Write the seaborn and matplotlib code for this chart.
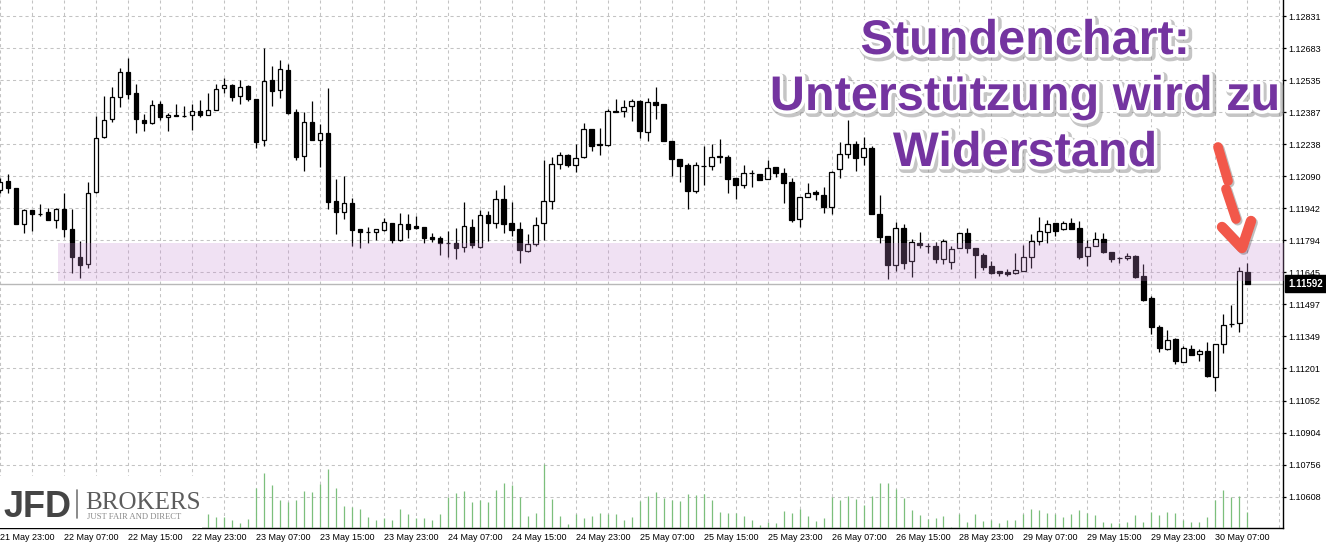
import matplotlib
matplotlib.use("Agg")
import matplotlib.pyplot as plt
import matplotlib.patheffects as pe
from matplotlib.patches import Rectangle
from matplotlib.lines import Line2D
import seaborn as sns
import numpy as np

sns.set_style("white")
plt.rcParams['font.family'] = ['Liberation Sans', 'DejaVu Sans']

# EURUSD H1 candles, 21 May 23:00 .. 30 May 11:00
opens = [1.12026, 1.12068, 1.12034, 1.11868, 1.11934, 1.11917, 1.11923, 1.11886, 1.11937, 1.11846,
         1.11715, 1.11683, 1.12016, 1.12271, 1.12353, 1.12455, 1.12572, 1.12474, 1.12350, 1.12338,
         1.12423, 1.12363, 1.12372, 1.12367, 1.12372, 1.12390, 1.12372, 1.12395, 1.12497, 1.12510,
         1.12460, 1.12507, 1.12447, 1.12256, 1.12535, 1.12487, 1.12581, 1.12387, 1.12182, 1.12341,
         1.12256, 1.12290, 1.11975, 1.11923, 1.11966, 1.11844, 1.11831, 1.11830, 1.11843, 1.11874,
         1.11793, 1.11869, 1.11860, 1.11855, 1.11809, 1.11804, 1.11780, 1.11780, 1.11764, 1.11855,
         1.11764, 1.11911, 1.11875, 1.11983, 1.11872, 1.11844, 1.11745, 1.11775, 1.11872, 1.11974,
         1.12145, 1.12187, 1.12141, 1.12177, 1.12308, 1.12238, 1.12233, 1.12390, 1.12390, 1.12413,
         1.12438, 1.12296, 1.12432, 1.12423, 1.12251, 1.12170, 1.12141, 1.12023, 1.12139, 1.12136,
         1.12184, 1.12179, 1.12080, 1.12048, 1.12106, 1.12100, 1.12079, 1.12131, 1.12103, 1.12062,
         1.11891, 1.11993, 1.12016, 1.12002, 1.11949, 1.12122, 1.12191, 1.12238, 1.12177, 1.12222,
         1.11914, 1.11813, 1.11681, 1.11849, 1.11696, 1.11781, 1.11766, 1.11767, 1.11709, 1.11692,
         1.11757, 1.11826, 1.11757, 1.11724, 1.11675, 1.11652, 1.11646, 1.11641, 1.11653, 1.11715,
         1.11792, 1.11833, 1.11872, 1.11844, 1.11874, 1.11849, 1.11721, 1.11766, 1.11798, 1.11740,
         1.11712, 1.11710, 1.11721, 1.11627, 1.11525, 1.11391, 1.11292, 1.11337, 1.11232, 1.11292,
         1.11266, 1.11280, 1.11163, 1.11314, 1.11406, 1.11410, 1.11647]
highs = [1.12082, 1.12100, 1.12036, 1.11937, 1.11936, 1.11961, 1.11943, 1.11943, 1.12011, 1.11937,
         1.11790, 1.12065, 1.12369, 1.12461, 1.12501, 1.12589, 1.12635, 1.12515, 1.12378, 1.12443,
         1.12438, 1.12384, 1.12424, 1.12415, 1.12424, 1.12444, 1.12475, 1.12516, 1.12543, 1.12516,
         1.12535, 1.12512, 1.12448, 1.12682, 1.12600, 1.12627, 1.12608, 1.12401, 1.12387, 1.12439,
         1.12331, 1.12498, 1.12077, 1.12091, 1.11988, 1.11847, 1.11854, 1.11845, 1.11895, 1.11875,
         1.11919, 1.11915, 1.11907, 1.11856, 1.11826, 1.11812, 1.11837, 1.11849, 1.11971, 1.11892,
         1.11932, 1.11929, 1.12026, 1.12049, 1.11971, 1.11877, 1.11823, 1.11900, 1.12165, 1.12180,
         1.12202, 1.12193, 1.12240, 1.12335, 1.12309, 1.12313, 1.12402, 1.12447, 1.12441, 1.12448,
         1.12443, 1.12450, 1.12501, 1.12424, 1.12253, 1.12171, 1.12150, 1.12154, 1.12231, 1.12238,
         1.12262, 1.12186, 1.12082, 1.12142, 1.12119, 1.12101, 1.12165, 1.12133, 1.12127, 1.12083,
         1.11994, 1.12060, 1.12026, 1.12042, 1.12112, 1.12247, 1.12350, 1.12251, 1.12271, 1.12231,
         1.12003, 1.11814, 1.11878, 1.11870, 1.11798, 1.11831, 1.11781, 1.11784, 1.11798, 1.11766,
         1.11826, 1.11849, 1.11758, 1.11735, 1.11698, 1.11653, 1.11662, 1.11734, 1.11772, 1.11823,
         1.11900, 1.11888, 1.11873, 1.11884, 1.11898, 1.11884, 1.11795, 1.11832, 1.11826, 1.11741,
         1.11715, 1.11736, 1.11726, 1.11684, 1.11536, 1.11402, 1.11379, 1.11340, 1.11305, 1.11308,
         1.11292, 1.11323, 1.11315, 1.11454, 1.11496, 1.11669, 1.11690]
lows = [1.12012, 1.12014, 1.11868, 1.11829, 1.11838, 1.11906, 1.11889, 1.11852, 1.11809, 1.11644,
        1.11621, 1.11664, 1.12012, 1.12267, 1.12342, 1.12412, 1.12446, 1.12291, 1.12299, 1.12333,
        1.12349, 1.12298, 1.12367, 1.12365, 1.12305, 1.12365, 1.12371, 1.12394, 1.12476, 1.12439,
        1.12425, 1.12439, 1.12222, 1.12231, 1.12416, 1.12453, 1.12379, 1.12166, 1.12115, 1.12258,
        1.12134, 1.11940, 1.11824, 1.11893, 1.11769, 1.11756, 1.11779, 1.11795, 1.11838, 1.11779,
        1.11789, 1.11806, 1.11846, 1.11783, 1.11788, 1.11726, 1.11718, 1.11706, 1.11741, 1.11759,
        1.11757, 1.11790, 1.11852, 1.11829, 1.11815, 1.11690, 1.11741, 1.11766, 1.11795, 1.11940,
        1.12123, 1.12134, 1.12109, 1.12176, 1.12208, 1.12189, 1.12231, 1.12388, 1.12365, 1.12347,
        1.12268, 1.12254, 1.12353, 1.12254, 1.12092, 1.12065, 1.11940, 1.12011, 1.12049, 1.12120,
        1.12153, 1.12014, 1.11986, 1.12034, 1.12042, 1.12073, 1.12078, 1.12086, 1.11968, 1.11876,
        1.11855, 1.11992, 1.11978, 1.11918, 1.11915, 1.12083, 1.12176, 1.12115, 1.12140, 1.11913,
        1.11783, 1.11613, 1.11653, 1.11662, 1.11624, 1.11759, 1.11735, 1.11690, 1.11683, 1.11661,
        1.11756, 1.11735, 1.11621, 1.11656, 1.11636, 1.11630, 1.11630, 1.11640, 1.11652, 1.11666,
        1.11772, 1.11780, 1.11815, 1.11843, 1.11846, 1.11706, 1.11676, 1.11765, 1.11737, 1.11695,
        1.11687, 1.11701, 1.11621, 1.11514, 1.11359, 1.11278, 1.11285, 1.11223, 1.11231, 1.11262,
        1.11237, 1.11163, 1.11098, 1.11274, 1.11394, 1.11369, 1.11591]
closes = [1.12065, 1.12037, 1.11870, 1.11932, 1.11917, 1.11916, 1.11889, 1.11937, 1.11846, 1.11716,
          1.11681, 1.12011, 1.12265, 1.12349, 1.12455, 1.12572, 1.12472, 1.12353, 1.12338, 1.12418,
          1.12365, 1.12372, 1.12367, 1.12367, 1.12390, 1.12374, 1.12395, 1.12492, 1.12513, 1.12455,
          1.12504, 1.12448, 1.12250, 1.12529, 1.12485, 1.12584, 1.12384, 1.12180, 1.12339, 1.12259,
          1.12288, 1.11972, 1.11924, 1.11966, 1.11843, 1.11830, 1.11830, 1.11845, 1.11878, 1.11793,
          1.11868, 1.11847, 1.11850, 1.11806, 1.11801, 1.11783, 1.11780, 1.11759, 1.11858, 1.11771,
          1.11911, 1.11875, 1.11983, 1.11870, 1.11843, 1.11750, 1.11775, 1.11863, 1.11974, 1.12145,
          1.12187, 1.12141, 1.12173, 1.12307, 1.12231, 1.12233, 1.12390, 1.12389, 1.12409, 1.12436,
          1.12300, 1.12432, 1.12421, 1.12255, 1.12171, 1.12139, 1.12023, 1.12141, 1.12139, 1.12177,
          1.12177, 1.12079, 1.12048, 1.12106, 1.12106, 1.12074, 1.12127, 1.12106, 1.12060, 1.11888,
          1.11993, 1.12011, 1.12006, 1.11949, 1.12111, 1.12191, 1.12240, 1.12174, 1.12220, 1.11914,
          1.11809, 1.11681, 1.11849, 1.11690, 1.11784, 1.11771, 1.11766, 1.11707, 1.11789, 1.11755,
          1.11826, 1.11758, 1.11727, 1.11672, 1.11644, 1.11644, 1.11639, 1.11656, 1.11715, 1.11789,
          1.11835, 1.11870, 1.11838, 1.11872, 1.11847, 1.11718, 1.11761, 1.11798, 1.11738, 1.11709,
          1.11711, 1.11720, 1.11625, 1.11518, 1.11391, 1.11297, 1.11331, 1.11237, 1.11294, 1.11263,
          1.11280, 1.11166, 1.11314, 1.11400, 1.11405, 1.11652, 1.11592]
# tick volume (first bars sit behind the logo)
volumes = [900, 800, 1500, 1200, 900, 700, 800, 1100, 2600, 3800,
           3300, 4200, 3900, 3000, 2800, 3100, 3500, 2700, 2000, 2200,
           1800, 1600, 1200, 900, 1300, 1100, 1430, 1100, 1100, 800,
           530, 930, 4000, 5500, 4330, 2830, 2630, 2770, 3700, 3600,
           4430, 5900, 4030, 2200, 2130, 1900, 1070, 830, 970, 770,
           1930, 1430, 970, 970, 770, 1430, 3100, 3500, 3730, 2630,
           2800, 2630, 3830, 4500, 4330, 3130, 1230, 1500, 6400, 2930,
           1230, 430, 1370, 970, 1230, 1530, 1430, 1400, 830, 1130,
           2670, 3170, 3630, 3000, 2830, 2670, 3400, 3330, 3370, 2830,
           1600, 1530, 1470, 1230, 830, 330, 630, 500, 1730, 1470,
           1930, 1230, 730, 1000, 3130, 2770, 3170, 2870, 2270, 3200,
           4530, 4470, 3930, 3030, 1770, 1300, 930, 1030, 1200, 100,
           1430, 630, 1430, 730, 830, 530, 770, 770, 1400, 1900,
           1830, 1500, 1400, 1130, 1400, 1830, 1530, 1330, 630, 530,
           500, 630, 1300, 630, 1630, 1300, 1600, 1530, 830, 600,
           600, 1130, 2830, 3830, 3100, 3170, 1600]

time_labels = ["21 May 23:00", "22 May 07:00", "22 May 15:00", "22 May 23:00", "23 May 07:00",
               "23 May 15:00", "23 May 23:00", "24 May 07:00", "24 May 15:00", "24 May 23:00",
               "25 May 07:00", "25 May 15:00", "25 May 23:00", "26 May 07:00", "26 May 15:00",
               "28 May 23:00", "29 May 07:00", "29 May 15:00", "29 May 23:00", "30 May 07:00"]
price_ticks = [1.12831, 1.12683, 1.12535, 1.12387, 1.12238, 1.12090, 1.11942, 1.11794,
               1.11645, 1.11497, 1.11349, 1.11201, 1.11052, 1.10904, 1.10756, 1.10608]
zone_low, zone_high = 1.11607, 1.11780
zone_start = 7.2
last_price = 1.11592

W, H = 1326, 547
fig = plt.figure(figsize=(W / 100, H / 100), dpi=100)
fig.patch.set_facecolor('white')
ax = fig.add_axes([0, 19 / H, 1283 / W, 528 / H])

# volume histogram on a hidden twin axis
ax2 = ax.twinx()
x = np.arange(len(opens))
ax2.vlines(x, 0, volumes, color='#7cbf7c', lw=0.9)
ax2.set_ylim(0, 52800)
ax2.set_yticks([])
for s in ax2.spines.values():
    s.set_visible(False)

o = np.array(opens); h = np.array(highs); l = np.array(lows); c = np.array(closes)
up = c >= o

ax.vlines(x, l, h, color='black', lw=0.9, zorder=3)
ax.bar(x[up], (c - o)[up], bottom=o[up], width=0.56, color='white',
       edgecolor='black', linewidth=0.9, zorder=4)
ax.bar(x[~up], (o - c)[~up], bottom=c[~up], width=0.56, color='black',
       edgecolor='black', linewidth=0.9, zorder=4)

# support / resistance zone
ax.fill_between([zone_start, 161], zone_low, zone_high, color='#c88cd4',
                alpha=0.26, lw=0, zorder=5)
ax.axhline(last_price, color='#b8b8b8', lw=1.0, zorder=2)

ax.set_xlim(0.0875, 160.46)
ax.set_ylim(1.10463, 1.12905)

ax.set_yticks(price_ticks)
ax.set_yticklabels([f"{p:.5f}" for p in price_ticks])
ax.yaxis.tick_right()
ax.yaxis.set_label_position('right')
ax.set_xticks(np.arange(0, 160, 8))
ax.set_xticklabels(time_labels)
ax.set_xticks(np.arange(0, 161, 4), minor=True)
ax.tick_params(axis='x', which='minor', length=0)
ax.tick_params(axis='x', which='major', direction='out', length=2.5, width=0.9,
               pad=1, labelsize=6.5, colors='black')
ax.tick_params(axis='y', which='both', direction='out', length=2.5, width=0.9, pad=1.5,
               labelsize=6.5, colors='black', left=False, labelleft=False,
               right=True, labelright=True)
for t in ax.get_xticklabels():
    t.set_ha('left')
ax.grid(True, which='both', ls=(0, (3, 3)), color='#c3c3c3', lw=0.75, zorder=0)
ax.set_axisbelow(True)
for s in ['left', 'top']:
    ax.spines[s].set_visible(False)
for s in ['right', 'bottom']:
    ax.spines[s].set_color('black')
    ax.spines[s].set_linewidth(1.0)

ax.annotate(f"{last_price:.5f}", xy=(1, last_price), xycoords=('axes fraction', 'data'),
            xytext=(4, 0), textcoords='offset points', ha='left', va='center',
            color='white', fontsize=7, fontweight='bold', annotation_clip=False,
            bbox=dict(boxstyle='square,pad=0.35', fc='black', ec='black'), zorder=10)

# headline
title_fx = [pe.Stroke(linewidth=7, foreground='#808080', alpha=0.45, offset=(1.5, -1.5)),
            pe.Stroke(linewidth=5, foreground='white'), pe.Normal()]
for txt, base in [("Stundenchart:", 54), ("Unterstützung wird zu", 110), ("Widerstand", 166)]:
    fig.text(1025 / W, 1 - base / H, txt, ha='center', va='baseline', fontsize=35,
             fontweight='bold', color='#7434a0', path_effects=title_fx, zorder=30)

# red dashed arrow
arrow_fx = [pe.SimpleLineShadow(offset=(1.2, -1.2), alpha=0.25), pe.Normal()]
for (x1, y1), (x2, y2) in [((1218, 147), (1228, 181)), ((1226, 189), (1236, 219))]:
    fig.add_artist(Line2D([x1 / W, x2 / W], [1 - y1 / H, 1 - y2 / H], transform=fig.transFigure,
                          lw=7, color='#f2584a', solid_capstyle='round', path_effects=arrow_fx,
                          zorder=30))
hx = [1222, 1242, 1251]
hy = [227, 248, 221]
fig.add_artist(Line2D([v / W for v in hx], [1 - v / H for v in hy], transform=fig.transFigure,
                      lw=7.5, color='#f2584a', solid_capstyle='round', solid_joinstyle='round',
                      path_effects=arrow_fx, zorder=30))

# broker logo
fig.add_artist(Rectangle((0, 19 / H), 202 / W, 52 / H, transform=fig.transFigure,
                         fc='white', ec='none', zorder=20))
fig.text(4 / W, 1 - 517 / H, "JFD", fontsize=26, fontweight='bold', color='#454545',
         va='baseline', ha='left', zorder=21)
fig.add_artist(Line2D([77 / W, 77 / W], [1 - 490 / H, 1 - 518 / H], transform=fig.transFigure,
                      lw=1.2, color='#777777', zorder=21))
fig.text(85 / W, 1 - 509 / H, "BROKERS", family='Liberation Serif', fontsize=18,
         color='#5c5c5c', va='baseline', ha='left', zorder=21)
fig.text(87 / W, 1 - 519 / H, "JUST FAIR AND DIRECT", family='Liberation Serif', fontsize=6.2,
         color='#8a8a8a', va='baseline', ha='left', zorder=21)

fig.savefig("out.png", dpi=100, facecolor='white')
